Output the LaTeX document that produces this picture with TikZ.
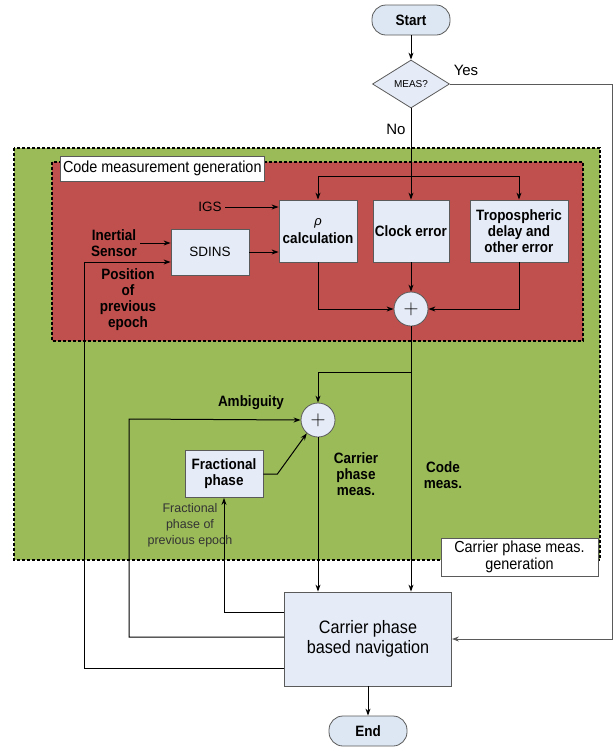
\documentclass[tikz,border=0pt]{standalone}
\usepackage{fontspec}
\setmainfont{Liberation Sans}
\newfontfamily\condfont{Liberation Sans}[FakeStretch=0.9]
\definecolor{boxblue}{RGB}{230, 236, 247}
\definecolor{pillblue}{RGB}{221, 231, 243}
\definecolor{codered}{RGB}{192, 80, 77}
\definecolor{carriergreen}{RGB}{155, 187, 89}
\definecolor{edgegray}{RGB}{90, 90, 90}
\usetikzlibrary{shapes, arrows.meta, positioning, calc}

\begin{document}
\begin{tikzpicture}[x=1pt, y=-1pt,
  blk/.style={draw=edgegray, fill=boxblue, line width=0.8pt, align=center, inner sep=2pt},
  pill/.style={draw=edgegray, fill=pillblue, line width=0.8pt, rounded corners=14pt, minimum width=78pt, minimum height=30pt, font=\condfont\bfseries\fontsize{15}{16}\selectfont},
  bold/.style={font=\condfont\bfseries\fontsize{15}{16}\selectfont, align=center},
  plain/.style={font=\fontsize{13.5}{16}\selectfont, align=center},
  tag/.style={draw=edgegray, fill=white, line width=0.6pt, align=center, inner sep=2pt, font=\condfont\fontsize{16}{17}\selectfont},
  sum/.style={circle, draw=edgegray, fill=boxblue, line width=0.8pt, minimum size=34pt, inner sep=0pt, font=\fontsize{22}{22}\selectfont},
  region/.style={dash pattern=on 3pt off 2pt, line width=1.6pt},
  arr/.style={-{Stealth[length=7pt, width=5pt]}, line width=1pt}]
  \useasboundingbox (0,0) rectangle (616,748);

  % Regions
  \draw[region, fill=carriergreen] (14,148) rectangle (600,560);
  \draw[region, fill=codered] (52,162) rectangle (583,341);
  \node[tag, anchor=north west, minimum width=204pt, minimum height=25pt] (codetag) at (60,156) {Code measurement generation};
  \node[tag, minimum width=157pt, minimum height=38pt] (carrtag) at (519.5,557) {Carrier phase meas.\\generation};

  % Flow
  \node[pill] (start) at (411,20) {Start};
  \node[diamond, draw=edgegray, fill=boxblue, line width=0.8pt, minimum width=77pt, minimum height=48pt, inner sep=0pt, font=\fontsize{10}{11}\selectfont] (meas) at (411,84) {MEAS?};
  \node[plain, font=\fontsize{15}{16}\selectfont] (yes) at (466,70) {Yes};
  \node[plain, font=\fontsize{15}{16}\selectfont] (no) at (396,129) {No};

  % Code measurement generation
  \node[blk, bold, minimum width=78pt, minimum height=62pt] (calc) at (318,231) {{\normalfont\itshape\fontsize{13}{13}\selectfont ρ}\\[2pt]calculation};
  \node[blk, bold, minimum width=70pt, minimum height=62pt] (clock) at (411,231) {Clock error};
  \node[blk, bold, minimum width=98pt, minimum height=62pt] (tropo) at (519,231) {Tropospheric\\delay and\\other error};
  \node[blk, plain, minimum width=78pt, minimum height=46pt] (sdins) at (210,252) {SDINS};
  \node[sum] (sumcode) at (411,309) {$+$};
  \node[plain] (igs) at (210,207) {IGS};
  \node[bold] (inertial) at (114,243) {Inertial\\Sensor};
  \node[bold] (posprev) at (128,300) {Position\\of\\previous\\epoch};

  % Carrier phase meas. generation
  \node[sum] (sumcarr) at (318,420) {$+$};
  \node[blk, bold, minimum width=78pt, minimum height=47pt] (frac) at (224,474) {Fractional\\phase};
  \node[bold] (ambig) at (251,403) {Ambiguity};
  \node[bold] (carrmeas) at (356,474) {Carrier\\phase\\meas.};
  \node[bold] (codemeas) at (443,475) {Code\\meas.};
  \node[plain, font=\fontsize{12.5}{16}\selectfont, text=black!80] (fracprev) at (190,525) {Fractional\\phase of\\previous epoch};

  \node[blk, minimum width=167pt, minimum height=94pt, font=\condfont\fontsize{18}{20}\selectfont] (nav) at (368,639) {Carrier phase\\based navigation};
  \node[pill] (stop) at (368,731) {End};

  % Connectors
  \coordinate (yesturn) at (612,84);
  \coordinate (split) at (411,176);
  \coordinate (branch) at (411,372);
  \coordinate (posx) at (84,262);
  \coordinate (ambx) at (129,419);
  \draw[arr] (start) -- (meas);
  \draw[arr, draw=edgegray] (meas.east) -- (yesturn) |- (nav.east);
  \draw[arr] (meas.south) -- (clock.north);
  \draw[arr] (split) -| (calc.north);
  \draw[arr] (split) -| (tropo.north);
  \draw[arr] (igs.east) -- (calc.west |- igs.east);
  \draw[arr] (inertial.east) -- (sdins.west |- inertial.east);
  \draw[arr] (sdins.east) -- (calc.west |- sdins.east);
  \draw[arr] (calc.south) |- (sumcode.west);
  \draw[arr] (clock.south) -- (sumcode.north);
  \draw[arr] (tropo.south) |- (sumcode.east);
  \draw[arr] (sumcode.south) -- (sumcode.south |- nav.north);
  \draw[arr] (branch) -| (sumcarr.north);
  \draw[arr] ($(nav.west)+(0,-2)$) -| (ambx) -- (sumcarr.west);
  \draw[arr] ($(nav.west)+(0,29)$) -| (posx) -- (sdins.west |- posx);
  \draw[arr] ($(nav.west)+(0,-27)$) -| (frac.south);
  \draw[arr] (frac.east) -- ++(14,0) -- (sumcarr.230);
  \draw[arr] (sumcarr.south) -- (sumcarr.south |- nav.north);
  \draw[arr] (nav) -- (stop);
\end{tikzpicture}
\end{document}
